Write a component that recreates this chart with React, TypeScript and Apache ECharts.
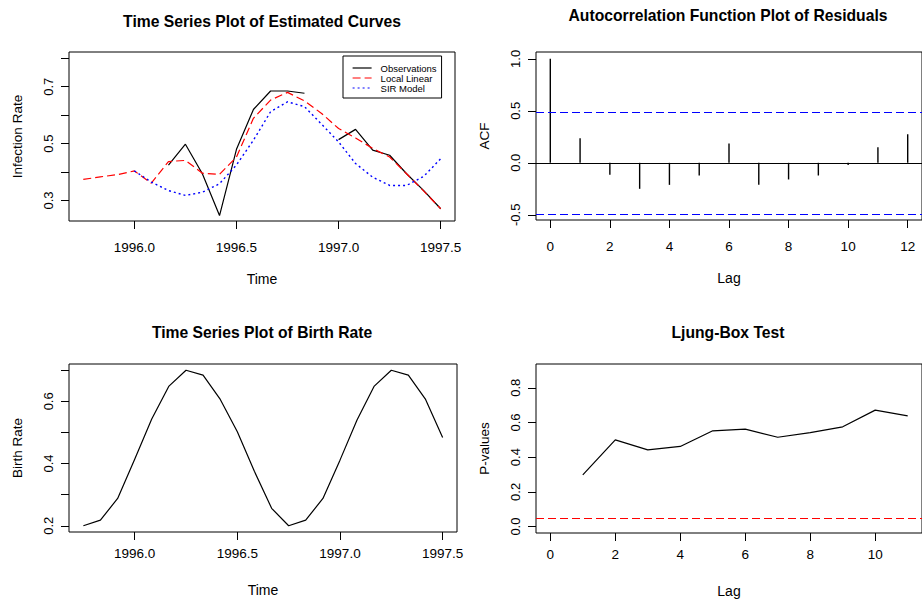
import { useEffect, useRef } from "react";
import * as echarts from "echarts";

// ---------- data ----------
const times = [
  1995.75, 1995.833, 1995.917, 1996.0, 1996.083, 1996.167, 1996.25, 1996.333,
  1996.417, 1996.5, 1996.583, 1996.667, 1996.75, 1996.833, 1996.917, 1997.0,
  1997.083, 1997.167, 1997.25, 1997.333, 1997.417, 1997.5,
];
const observations: (number | null)[] = [
  null, null, null, null, null, 0.424, 0.498, 0.394, 0.247, 0.48, 0.62, 0.685,
  0.685, 0.677, null, 0.514, 0.55, 0.477, 0.459, 0.394, 0.335, 0.271,
];
const localLinear: (number | null)[] = [
  0.374, 0.383, 0.391, 0.404, 0.361, 0.437, 0.441, 0.396, 0.392, 0.453, 0.589,
  0.653, 0.68, 0.65, 0.606, 0.553, 0.52, 0.483, 0.453, 0.394, 0.333, 0.271,
];
const sirModel: (number | null)[] = [
  null, null, null, 0.404, 0.365, 0.335, 0.318, 0.329, 0.359, 0.425, 0.512,
  0.612, 0.647, 0.63, 0.568, 0.506, 0.43, 0.382, 0.353, 0.353, 0.385, 0.447,
];
const birthRate = [
  0.2, 0.218, 0.288, 0.414, 0.543, 0.649, 0.7, 0.684, 0.606, 0.502, 0.375,
  0.256, 0.2, 0.218, 0.288, 0.411, 0.54, 0.649, 0.7, 0.684, 0.606, 0.484,
];
const acfLags = [0, 1, 2, 3, 4, 5, 6, 7, 8, 9, 10, 11, 12];
const acfValues = [
  1.0, 0.237, -0.115, -0.25, -0.212, -0.122, 0.186, -0.212, -0.16, -0.122,
  -0.02, 0.15, 0.276,
];
const acfBound = 0.49;
const lbLags = [1, 2, 3, 4, 5, 6, 7, 8, 9, 10, 11];
const lbPValues = [
  0.298, 0.5, 0.442, 0.462, 0.552, 0.562, 0.515, 0.542, 0.575, 0.671, 0.638,
];
const lbThreshold = 0.05;

// tick values / labels
const timeTicks = [1996.0, 1996.5, 1997.0, 1997.5];
const infTicks = [0.3, 0.4, 0.5, 0.6, 0.7, 0.8];
const infLabels = [0.3, 0.5, 0.7];
const acfYTicks = [-0.5, 0.0, 0.5, 1.0];
const acfXTicks = [0, 2, 4, 6, 8, 10, 12];
const birthTicks = [0.2, 0.3, 0.4, 0.5, 0.6, 0.7];
const birthLabels = [0.2, 0.4, 0.6];
const lbYTicks = [0.0, 0.2, 0.4, 0.6, 0.8];
const lbXTicks = [0, 2, 4, 6, 8, 10];

const titles = [
  "Time Series Plot of Estimated Curves",
  "Autocorrelation Function Plot of Residuals",
  "Time Series Plot of Birth Rate",
  "Ljung-Box Test",
];
const legendNames = ["Observations", "Local Linear", "SIR Model"];

const FONT = "'Liberation Sans', Arial, Helvetica, sans-serif";

function pairs(xs: number[], ys: (number | null)[]) {
  return xs.map((x, i) => [x, ys[i] === null ? "-" : ys[i]]);
}

function xAxis(
  gridIndex: number,
  min: number,
  max: number,
  ticks: number[],
  labels: number[],
  fmt: (v: number) => string,
  name: string,
  margin: number,
  nameGap: number
) {
  return {
    type: "value",
    gridIndex,
    min,
    max,
    axisLine: { show: false, onZero: false },
    axisTick: {
      show: true,
      length: 8,
      customValues: ticks,
      lineStyle: { color: "#000", width: 1 },
    },
    axisLabel: {
      customValues: labels,
      formatter: (v: number) => fmt(v),
      margin,
      color: "#000",
      fontSize: 13.5,
      fontFamily: FONT,
    },
    splitLine: { show: false },
    name,
    nameLocation: "middle",
    nameGap,
    nameTextStyle: { color: "#000", fontSize: 14, fontFamily: FONT },
  };
}

function yAxis(
  gridIndex: number,
  min: number,
  max: number,
  ticks: number[],
  labels: number[],
  name: string
) {
  return {
    type: "value",
    gridIndex,
    min,
    max,
    axisLine: { show: false, onZero: false },
    axisTick: {
      show: true,
      length: 8,
      customValues: ticks,
      lineStyle: { color: "#000", width: 1 },
    },
    axisLabel: {
      customValues: labels,
      formatter: (v: number) => v.toFixed(1),
      rotate: 90,
      margin: 14,
      color: "#000",
      fontSize: 13,
      fontFamily: FONT,
    },
    splitLine: { show: false },
    name,
    nameLocation: "middle",
    nameGap: 45,
    nameRotate: 90,
    nameTextStyle: { color: "#000", fontSize: 13.5, fontFamily: FONT },
  };
}

function titleText(text: string, x: number, y: number) {
  return {
    type: "text",
    x,
    y,
    style: {
      text,
      fill: "#000",
      font: `bold 15.7px ${FONT}`,
      textAlign: "center",
      textVerticalAlign: "middle",
    },
  };
}

export default function App() {
  const ref = useRef<HTMLDivElement>(null);

  useEffect(() => {
    document.body.style.margin = "0";
    if (!ref.current) return;
    const chart = echarts.init(ref.current, undefined, { renderer: "svg" });

    const gridBase = {
      show: true,
      borderColor: "#000",
      borderWidth: 1,
      backgroundColor: "transparent",
      containLabel: false,
    };

    const option: any = {
      animation: false,
      backgroundColor: "#fff",
      textStyle: { fontFamily: FONT },
      grid: [
        { ...gridBase, left: 69, top: 52, width: 386, height: 169 },
        { ...gridBase, left: 536, top: 52, width: 388, height: 168 },
        { ...gridBase, left: 69, top: 364, width: 388, height: 168 },
        { ...gridBase, left: 536, top: 364, width: 388, height: 169 },
      ],
      xAxis: [
        xAxis(0, 1995.68, 1997.57, timeTicks, timeTicks, (v) => v.toFixed(1), "Time", 19, 51),
        xAxis(1, -0.48, 12.48, acfXTicks, acfXTicks, (v) => String(v), "Lag", 19, 51),
        xAxis(2, 1995.68, 1997.57, timeTicks, timeTicks, (v) => v.toFixed(1), "Time", 14, 51),
        xAxis(3, -0.44, 11.44, lbXTicks, lbXTicks, (v) => String(v), "Lag", 14, 51),
      ],
      yAxis: [
        yAxis(0, 0.228, 0.822, infTicks, infLabels, "Infection Rate"),
        yAxis(1, -0.55, 1.066, acfYTicks, acfYTicks, "ACF"),
        yAxis(2, 0.18, 0.72, birthTicks, birthLabels, "Birth Rate"),
        yAxis(3, -0.037, 0.937, lbYTicks, lbYTicks, "P-values"),
      ],
      legend: {
        data: legendNames,
        orient: "vertical",
        left: 343,
        top: 56,
        padding: [7, 5, 5, 9],
        itemWidth: 19,
        itemHeight: 12,
        itemGap: 0,
        borderColor: "#000",
        borderWidth: 1,
        backgroundColor: "#fff",
        selectedMode: false,
        itemStyle: { opacity: 0, borderWidth: 0 },
        lineStyle: { width: 1.2 },
        textStyle: {
          color: "#000",
          fontSize: 9.5,
          fontFamily: FONT,
          padding: [0, 0, 0, 4],
        },
      },
      graphic: [
        titleText(titles[0], 262, 21.5),
        titleText(titles[1], 728, 15),
        titleText(titles[2], 262, 332.5),
        titleText(titles[3], 728, 332.5),
      ],
      series: [
        {
          name: "Observations",
          type: "line",
          xAxisIndex: 0,
          yAxisIndex: 0,
          data: pairs(times, observations),
          symbol: "none",
          connectNulls: false,
          lineStyle: { color: "#000", width: 1.2 },
          itemStyle: { color: "#000" },
        },
        {
          name: "Local Linear",
          type: "line",
          xAxisIndex: 0,
          yAxisIndex: 0,
          data: pairs(times, localLinear),
          symbol: "none",
          lineStyle: { color: "#ff0000", width: 1.2, type: [8, 4] },
          itemStyle: { color: "#ff0000" },
        },
        {
          name: "SIR Model",
          type: "line",
          xAxisIndex: 0,
          yAxisIndex: 0,
          data: pairs(times, sirModel),
          symbol: "none",
          lineStyle: { color: "#0000ff", width: 1.4, type: [2, 3] },
          itemStyle: { color: "#0000ff" },
        },
        {
          name: "ACF",
          type: "custom",
          xAxisIndex: 1,
          yAxisIndex: 1,
          data: acfLags.map((l, i) => [l, acfValues[i]]),
          renderItem: (params: any, api: any) => {
            const x = api.value(0);
            const y = api.value(1);
            const p0 = api.coord([x, 0]);
            const p1 = api.coord([x, y]);
            return {
              type: "line",
              shape: { x1: p0[0], y1: p0[1], x2: p1[0], y2: p1[1] },
              style: { stroke: "#000", lineWidth: 1.4 },
            };
          },
          markLine: {
            silent: true,
            symbol: "none",
            label: { show: false },
            data: [
              { yAxis: 0, lineStyle: { color: "#000", width: 1, type: "solid" } },
              { yAxis: acfBound, lineStyle: { color: "#0000ff", width: 1.2, type: [8, 4] } },
              { yAxis: -acfBound, lineStyle: { color: "#0000ff", width: 1.2, type: [8, 4] } },
            ],
          },
        },
        {
          name: "Birth Rate",
          type: "line",
          xAxisIndex: 2,
          yAxisIndex: 2,
          data: pairs(times, birthRate),
          symbol: "none",
          lineStyle: { color: "#000", width: 1.2 },
        },
        {
          name: "P-values",
          type: "line",
          xAxisIndex: 3,
          yAxisIndex: 3,
          data: lbLags.map((l, i) => [l, lbPValues[i]]),
          symbol: "none",
          lineStyle: { color: "#000", width: 1.2 },
          markLine: {
            silent: true,
            symbol: "none",
            label: { show: false },
            data: [
              { yAxis: lbThreshold, lineStyle: { color: "#ff0000", width: 1.2, type: [8, 4] } },
            ],
          },
        },
      ],
    };

    chart.setOption(option);
    return () => chart.dispose();
  }, []);

  return (
    <div
      ref={ref}
      style={{ width: 922, height: 601, overflow: "hidden", background: "#fff" }}
    />
  );
}
